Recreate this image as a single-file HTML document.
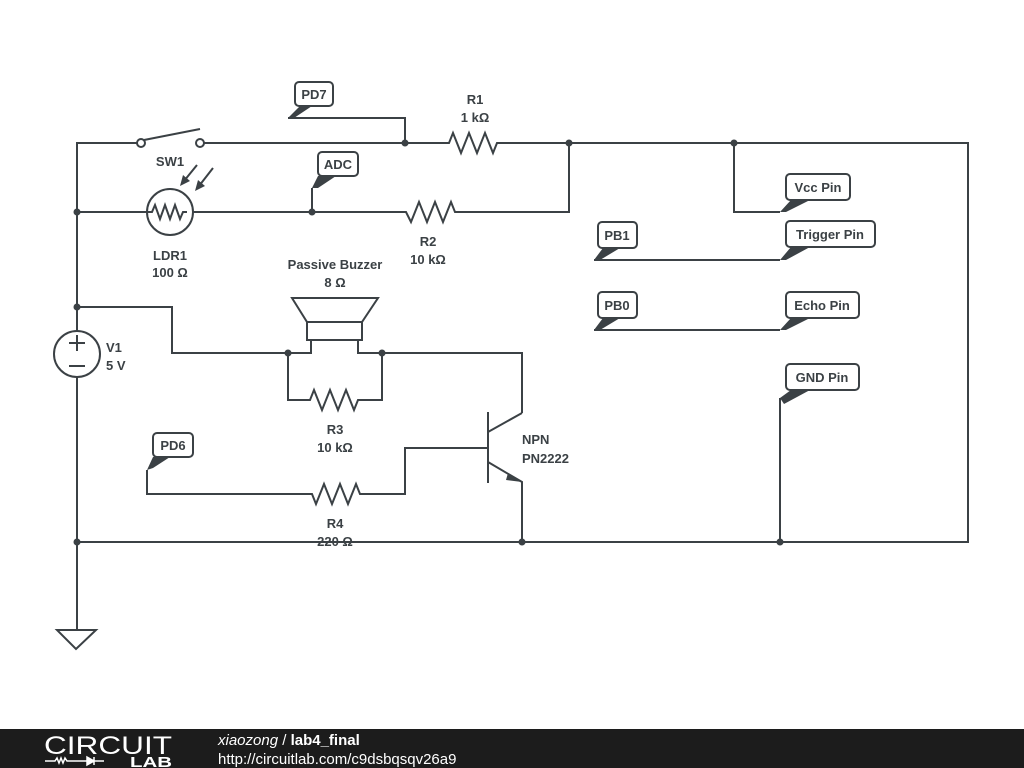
<!DOCTYPE html>
<html><head><meta charset="utf-8"><style>
html,body{margin:0;padding:0;background:#fff;width:1024px;height:768px;overflow:hidden}
svg{display:block}
text{font-family:"Liberation Sans",sans-serif;font-weight:bold;font-size:13px;fill:#3b4145}
</style></head><body>
<svg width="1024" height="768" viewBox="0 0 1024 768" xmlns="http://www.w3.org/2000/svg">
<g stroke="#3b4145" stroke-width="2" fill="none" stroke-linejoin="miter">
<path d="M141 143H77V630"/>
<path d="M200 143H449l4 -10l8 20l8 -20l8 20l8 -20l8 20l4 -10H968V542H77"/>
<circle cx="141" cy="143" r="4" fill="#fff"/><circle cx="200" cy="143" r="4" fill="#fff"/>
<path d="M144 140L200 129"/>
<path d="M405 143V118H288"/>
<path d="M569 143V212H455l-4 -10l-8 20l-8 -20l-8 20l-8 -20l-8 20l-5 -10H193"/>
<path d="M77 212H148"/>
<circle cx="170" cy="212" r="23"/>
<path d="M148 212l4 0l3 -7l5 14l5 -14l5 14l5 -14l5 14l3 -7h4"/>
<path d="M197 165L184 181M213 168L199 186"/>
<path d="M312 212V188"/>
<path d="M77 307H172V353H311V340M358 340V353H522V413"/>
<path d="M292 298H378L362 322H307Z"/>
<rect x="307" y="322" width="55" height="18"/>
<path d="M288 353V400H310l4 -10l8 20l8 -20l8 20l8 -20l8 20l4 -10H382V353"/>
<path d="M488 412V483M488 432L522 413M488 462L522 482V542"/>
<path d="M488 448H405V494H360l-4 -10l-8 20l-8 -20l-8 20l-8 -20l-8 20l-4 -10H147V470"/>
<path d="M734 143V212H780"/>
<path d="M594 260H780M594 330H780M780 542V398"/>
<circle cx="77" cy="354" r="23" fill="#fff"/>
<path d="M69 343h16M77 335v16M69 366h16"/>
<path d="M57 630H96L76 649Z"/>
</g>
<polygon points="508,473 522,482 506,480" fill="#3b4145"/>
<polygon points="180,186 190,181 183,175" fill="#3b4145"/>
<polygon points="195,191 205,186 198,180" fill="#3b4145"/>
<g fill="#3b4145">
<circle cx="405" cy="143" r="3.5"/><circle cx="569" cy="143" r="3.5"/><circle cx="734" cy="143" r="3.5"/>
<circle cx="77" cy="212" r="3.5"/><circle cx="312" cy="212" r="3.5"/><circle cx="77" cy="307" r="3.5"/>
<circle cx="288" cy="353" r="3.5"/><circle cx="382" cy="353" r="3.5"/>
<circle cx="77" cy="542" r="3.5"/><circle cx="522" cy="542" r="3.5"/><circle cx="780" cy="542" r="3.5"/>
</g>
<g stroke="#3b4145" stroke-width="2" fill="#fff">
<rect x="295" y="82" width="38" height="24" rx="4"/>
<rect x="318" y="152" width="40" height="24" rx="4"/>
<rect x="153" y="433" width="40" height="24" rx="4"/>
<rect x="598" y="222" width="39" height="26" rx="4"/>
<rect x="598" y="292" width="39" height="26" rx="4"/>
<rect x="786" y="174" width="64" height="26" rx="4"/>
<rect x="786" y="221" width="89" height="26" rx="4"/>
<rect x="786" y="292" width="73" height="26" rx="4"/>
<rect x="786" y="364" width="73" height="26" rx="4"/>
</g>
<g fill="#3b4145">
<polygon points="288,118 300,106 312,106 294,118"/>
<polygon points="312,188 318,176 336,176 318,188"/>
<polygon points="147,470 153,457 170,457 153,468"/>
<polygon points="594,260 603,248 620,248 600,260"/>
<polygon points="594,330 603,318 620,318 600,330"/>
<polygon points="780,212 791,200 810,200 786,212"/>
<polygon points="780,260 791,247 810,247 786,260"/>
<polygon points="780,330 791,318 810,318 786,330"/>
<polygon points="780,398 791,390 810,390 784,404"/>
</g>
<g text-anchor="middle">
<text x="314" y="99">PD7</text>
<text x="338" y="169">ADC</text>
<text x="173" y="450">PD6</text>
<text x="617" y="240">PB1</text>
<text x="617" y="310">PB0</text>
<text x="818" y="192">Vcc Pin</text>
<text x="830" y="239">Trigger Pin</text>
<text x="822" y="310">Echo Pin</text>
<text x="822" y="382">GND Pin</text>
<text x="475" y="104">R1</text><text x="475" y="122">1 kΩ</text>
<text x="170" y="166">SW1</text>
<text x="428" y="246">R2</text><text x="428" y="264">10 kΩ</text>
<text x="170" y="260">LDR1</text><text x="170" y="277">100 Ω</text>
<text x="335" y="269">Passive Buzzer</text><text x="335" y="287">8 Ω</text>
<text x="335" y="434">R3</text><text x="335" y="452">10 kΩ</text>
<text x="335" y="528">R4</text><text x="335" y="546">220 Ω</text>
</g>
<text x="106" y="352">V1</text><text x="106" y="370">5 V</text>
<text x="522" y="444">NPN</text><text x="522" y="463">PN2222</text>
<rect x="0" y="729" width="1024" height="39" fill="#1c1c1c"/>
<text x="44" y="754" textLength="128" lengthAdjust="spacingAndGlyphs" style="font-weight:normal;font-size:25px;fill:#fff">CIRCUIT</text>
<path d="M45 761h10l2 -3l2 5l2 -5l2 5l2 -5l2 3h10M75 761h12M87 757v8M87 757l7 4l-7 4zM94 757v8M94 761h10" stroke="#fff" stroke-width="1.5" fill="none"/>
<polygon points="87,757 94,761 87,765" fill="#fff"/>
<text x="130" y="767" textLength="42" lengthAdjust="spacingAndGlyphs" style="font-size:15px;fill:#fff;font-weight:900">LAB</text>
<text x="218" y="745" style="font-size:15px;fill:#fff;font-weight:normal"><tspan font-style="italic">xiaozong</tspan> / <tspan font-weight="bold">lab4_final</tspan></text>
<text x="218" y="764" style="font-size:15px;fill:#fff;font-weight:normal">http://circuitlab.com/c9dsbqsqv26a9</text>
</svg>
</body></html>
